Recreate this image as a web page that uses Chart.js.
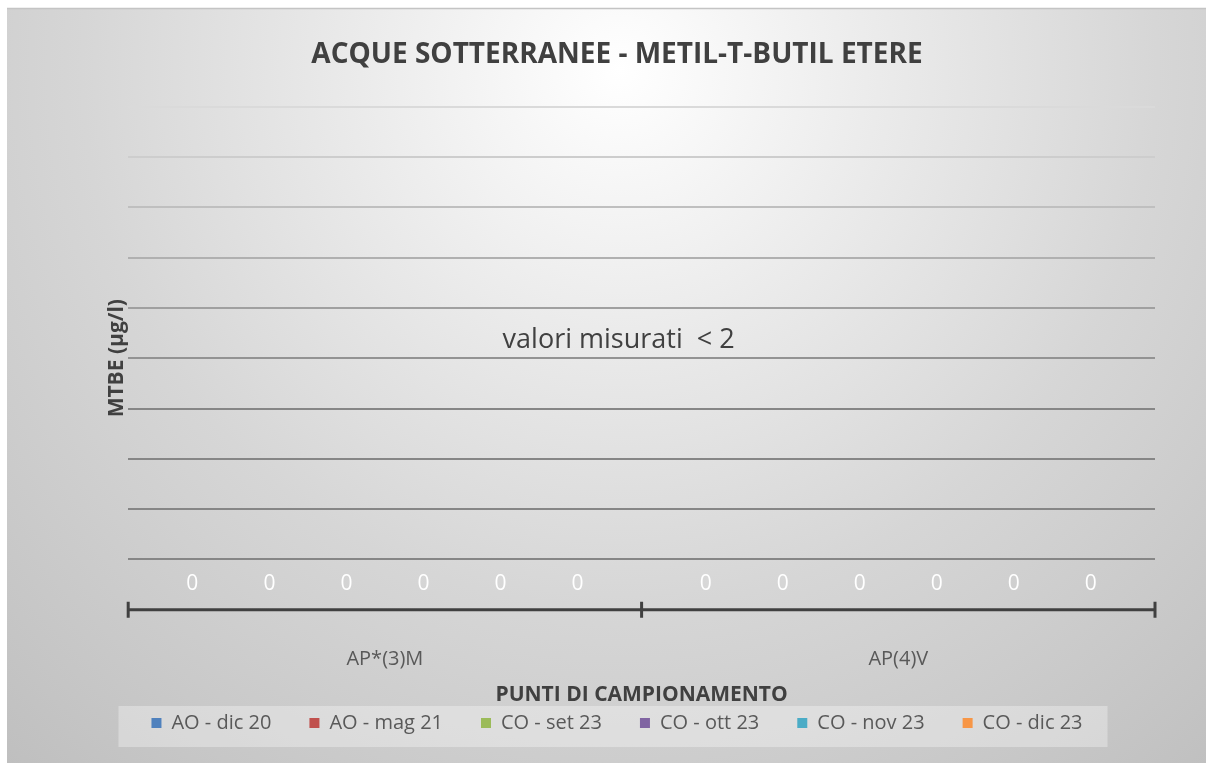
<!DOCTYPE html>
<html><head><meta charset="utf-8">
<script src="https://cdn.jsdelivr.net/npm/chart.js@4.4.1/dist/chart.umd.min.js"></script>
<style>html,body{margin:0;padding:0;background:#fff;overflow:hidden}#wrap{width:1206px;height:763px}</style>
</head><body><div id="wrap"><canvas id="c" width="1206" height="763"></canvas></div>
<script>
const chartTitle = 'ACQUE SOTTERRANEE - METIL-T-BUTIL ETERE';
const xTitle = 'PUNTI DI CAMPIONAMENTO';
const yTitle = 'MTBE (µg/l)';
const noteText = 'valori misurati  < 2';
const categories = ['AP*(3)M', 'AP(4)V'];
const seriesNames = ['AO - dic 20', 'AO - mag 21', 'CO - set 23', 'CO - ott 23', 'CO - nov 23', 'CO - dic 23'];
const aoDic20 = [0, 0];
const aoMag21 = [0, 0];
const coSet23 = [0, 0];
const coOtt23 = [0, 0];
const coNov23 = [0, 0];
const coDic23 = [0, 0];
const seriesValues = [aoDic20, aoMag21, coSet23, coOtt23, coNov23, coDic23];
const seriesColors = ['#4F81BD', '#C0504D', '#9BBB59', '#8064A2', '#4BACC6', '#F79646'];
const yMin = 0, yMax = 10, yStep = 1;

const bgPlugin = {
  id: 'bg',
  beforeDraw(chart) {
    const ctx = chart.ctx, w = chart.width, h = chart.height;
    ctx.save();
    ctx.fillStyle = '#ffffff';
    ctx.fillRect(0, 0, w, h);
    const g = ctx.createRadialGradient(620, 70, 0, 620, 70, 960);
    g.addColorStop(0, '#ffffff');
    g.addColorStop(0.27, '#ebebeb');
    g.addColorStop(0.56, '#d6d6d6');
    g.addColorStop(0.88, '#c4c4c4');
    g.addColorStop(1, '#bdbdbd');
    ctx.fillStyle = g;
    ctx.fillRect(7, 8, w - 7, h - 8);
    ctx.strokeStyle = '#c4c4c4';
    ctx.lineWidth = 1.5;
    ctx.beginPath(); ctx.moveTo(7, 8.5); ctx.lineTo(w, 8.5); ctx.stroke();
    const lg = chart.legend;
    if (lg && lg.legendHitBoxes && lg.legendHitBoxes.length) {
      const hb = lg.legendHitBoxes;
      const last = hb[hb.length - 1];
      const l = hb[0].left - 33, r = last.left + last.width + 25;
      const cy = hb[0].top + hb[0].height / 2;
      ctx.fillStyle = 'rgba(255,255,255,0.32)';
      ctx.fillRect(l, cy - 17, r - l, 41);
    }
    ctx.restore();
  }
};

const overlayPlugin = {
  id: 'overlay',
  afterDatasetsDraw(chart) {
    const ctx = chart.ctx, ys = chart.scales.y, xs = chart.scales.x, ca = chart.chartArea;
    ctx.save();
    const bounds = [ca.left];
    for (let k = 0; k < categories.length - 1; k++) {
      bounds.push((xs.getPixelForValue(k) + xs.getPixelForValue(k + 1)) / 2);
    }
    bounds.push(ca.right);
    ctx.strokeStyle = '#404040';
    ctx.lineWidth = 3;
    ctx.beginPath();
    ctx.moveTo(ca.left, ca.bottom); ctx.lineTo(ca.right, ca.bottom);
    bounds.forEach(bx => { ctx.moveTo(bx, ca.bottom - 8); ctx.lineTo(bx, ca.bottom + 8); });
    ctx.stroke();
    ctx.font = '21px "Open Sans"';
    ctx.fillStyle = '#ffffff';
    ctx.textAlign = 'center';
    ctx.textBaseline = 'middle';
    chart.data.datasets.forEach((ds, i) => {
      chart.getDatasetMeta(i).data.forEach((bar, j) => {
        ctx.fillText(String(ds.data[j]), bar.x, bar.y - 26);
      });
    });
    ctx.fillStyle = '#404040';
    ctx.font = '27px "Open Sans"';
    ctx.fillText(noteText, (ca.left + ca.right) / 2 - 23, ys.getPixelForValue(5.35));
    ctx.restore();
  }
};

function gridColor(c) {
  const v = c.tick ? c.tick.value : 0;
  if (v >= 10) return '#dadada';
  if (v >= 9) return '#cdcdcd';
  if (v >= 8) return '#bfbfbf';
  if (v >= 7) return '#b0b0b0';
  if (v >= 6) return '#a0a0a0';
  if (v >= 5) return '#939393';
  return '#868686';
}

new Chart(document.getElementById('c'), {
  type: 'bar',
  data: {
    labels: categories,
    datasets: seriesNames.map((n, i) => ({
      label: n,
      data: seriesValues[i],
      backgroundColor: seriesColors[i],
      borderWidth: 0,
      categoryPercentage: 0.9,
      barPercentage: 1
    }))
  },
  options: {
    responsive: false,
    animation: false,
    devicePixelRatio: 1,
    layout: { padding: { left: 79, right: 51, top: 0, bottom: 20 } },
    plugins: {
      title: {
        display: true,
        text: chartTitle,
        color: '#404040',
        font: { family: 'Open Sans', size: 28, weight: 'bold' },
        padding: { top: 38, bottom: 35 }
      },
      legend: {
        position: 'bottom',
        labels: {
          color: '#595959',
          font: { family: 'Open Sans', size: 20 },
          boxWidth: 10,
          boxHeight: 10,
          padding: 38
        }
      },
      tooltip: { enabled: false }
    },
    scales: {
      x: {
        grid: { display: false, drawTicks: true, tickLength: 8 },
        border: { display: false },
        ticks: { color: '#595959', font: { family: 'Open Sans', size: 20 }, padding: 29 },
        title: {
          display: true, text: xTitle, color: '#404040',
          font: { family: 'Open Sans', size: 21, weight: 'bold' },
          padding: { top: -17, bottom: -33 }
        }
      },
      y: {
        min: yMin, max: yMax,
        ticks: { display: false, stepSize: yStep },
        grid: { color: gridColor, lineWidth: 2, drawTicks: false },
        border: { display: false },
        title: {
          display: true, text: yTitle, color: '#404040',
          font: { family: 'Open Sans', size: 21, weight: 'bold' },
          padding: { top: 25, bottom: -1 }
        }
      }
    }
  },
  plugins: [bgPlugin, overlayPlugin]
});
</script>
</body></html>
